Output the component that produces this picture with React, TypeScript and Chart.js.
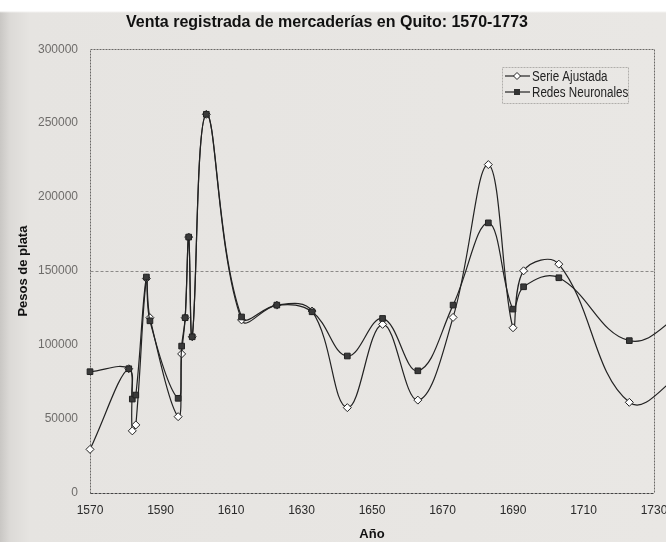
import React, { useEffect, useRef } from "react";
import { Chart, registerables } from "chart.js";

Chart.register(...registerables);

// ---- data ----
const years = [1570, 1581, 1582, 1583, 1586, 1587, 1595, 1596, 1597, 1598, 1599, 1603, 1613, 1623, 1633, 1643, 1653, 1663, 1673, 1683, 1690, 1693, 1703, 1723, 1740];
const serieAjustada = [29500, 84000, 42000, 46000, 145000, 118500, 51600, 94000, 118500, 173000, 105600, 256000, 117000, 127000, 123000, 57700, 114000, 62800, 118700, 222000, 111700, 150200, 154700, 61300, 85000];
const redesNeuronales = [82000, 84000, 63500, 66200, 146000, 116400, 64000, 99300, 118500, 173000, 105600, 256000, 119000, 127000, 122500, 92600, 118000, 82600, 127000, 182600, 124300, 139400, 145500, 103000, 125000];
const xTickValues = [1570, 1590, 1610, 1630, 1650, 1670, 1690, 1710, 1730];
const yTickValues = [0, 50000, 100000, 150000, 200000, 250000, 300000];
const gridValue = 150000;
const seriesNames = ["Serie Ajustada", "Redes Neuronales"];
const titleText = "Venta registrada de mercaderías en Quito: 1570-1773";
const xTitle = "Año";
const yTitle = "Pesos de plata";

const SANS = "'Liberation Sans', Arial, sans-serif";
const INK = "#222";

const framePlugin = {
  id: "frameAndLegend",
  beforeDatasetsDraw(chart: any) {
    const { ctx, chartArea: a, scales } = chart;
    const L = Math.round(a.left) + 0.5;
    const R = Math.round(a.right) + 0.5;
    const T = Math.round(a.top) + 0.5;
    const B = Math.round(a.bottom) + 0.5;
    const yg = Math.round(scales.y.getPixelForValue(gridValue)) + 0.5;
    ctx.save();
    ctx.lineWidth = 1;
    ctx.setLineDash([3, 2]);
    ctx.strokeStyle = "#8c8a88";
    ctx.beginPath();
    ctx.moveTo(L, yg);
    ctx.lineTo(R, yg);
    ctx.stroke();
    ctx.setLineDash([2, 1]);
    ctx.strokeStyle = "#6a6866";
    ctx.beginPath();
    ctx.moveTo(L, B);
    ctx.lineTo(L, T);
    ctx.lineTo(R, T);
    ctx.lineTo(R, B);
    ctx.stroke();
    ctx.strokeStyle = "#444";
    ctx.setLineDash([3, 1]);
    ctx.beginPath();
    ctx.moveTo(L, B);
    ctx.lineTo(R, B);
    ctx.stroke();
    ctx.restore();
  },
  afterDraw(chart: any) {
    const { ctx } = chart;
    ctx.save();
    ctx.strokeStyle = "#b0aeab";
    ctx.lineWidth = 1;
    ctx.setLineDash([2, 1]);
    ctx.strokeRect(502.5, 67.5, 126, 36);
    ctx.setLineDash([]);
    const rows = [76, 92];
    rows.forEach((y, i) => {
      ctx.strokeStyle = INK;
      ctx.lineWidth = 1.2;
      ctx.beginPath();
      ctx.moveTo(505, y);
      ctx.lineTo(530, y);
      ctx.stroke();
      const cx = 517;
      ctx.lineWidth = 1;
      if (i === 0) {
        ctx.fillStyle = "#fff";
        ctx.beginPath();
        ctx.moveTo(cx, y - 3.5);
        ctx.lineTo(cx + 3.5, y);
        ctx.lineTo(cx, y + 3.5);
        ctx.lineTo(cx - 3.5, y);
        ctx.closePath();
        ctx.fill();
        ctx.stroke();
      } else {
        ctx.fillStyle = "#333";
        ctx.fillRect(cx - 3, y - 3, 6, 6);
      }
      ctx.save();
      ctx.translate(532, y + 1);
      ctx.scale(0.83, 1);
      ctx.fillStyle = INK;
      ctx.font = `14px ${SANS}`;
      ctx.textBaseline = "middle";
      ctx.textAlign = "left";
      ctx.fillText(seriesNames[i], 0, 0);
      ctx.restore();
    });
    ctx.restore();
  },
};

export default function App() {
  const ref = useRef<HTMLCanvasElement | null>(null);

  useEffect(() => {
    if (!ref.current) return;
    const chart = new Chart(ref.current, {
      type: "line",
      data: {
        datasets: [
          {
            label: seriesNames[1],
            data: years.map((x, i) => ({ x, y: redesNeuronales[i] })),
            borderColor: INK,
            borderWidth: 1.2,
            backgroundColor: "#333",
            pointStyle: "rect",
            pointRadius: 4,
            pointBorderColor: "#222",
            pointBorderWidth: 1,
            pointBackgroundColor: "#3a3a3a",
            tension: 0.4,
            clip: false,
          },
          {
            label: seriesNames[0],
            data: years.map((x, i) => ({ x, y: serieAjustada[i] })),
            borderColor: INK,
            borderWidth: 1.2,
            backgroundColor: "#fff",
            pointStyle: "rectRot",
            pointRadius: 4,
            pointBorderColor: "#222",
            pointBorderWidth: 1,
            pointBackgroundColor: "#fff",
            tension: 0.4,
            clip: false,
          },
        ],
      },
      options: {
        responsive: false,
        animation: false,
        devicePixelRatio: 1,
        layout: { padding: { left: 0, right: 12, top: 0, bottom: 0 } },
        plugins: {
          legend: { display: false },
          tooltip: { enabled: false },
          title: {
            display: true,
            text: titleText,
            color: "#111",
            font: { family: SANS, size: 16, weight: "bold" },
            padding: { top: 13, bottom: 17 },
          },
        },
        scales: {
          x: {
            type: "linear",
            min: 1570,
            max: 1730,
            afterBuildTicks: (scale: any) => {
              scale.ticks = xTickValues.map((v) => ({ value: v }));
            },
            afterFit: (scale: any) => {
              scale.height = 49;
              scale.paddingLeft = 0;
              scale.paddingRight = 0;
            },
            grid: { display: false, drawTicks: false },
            border: { display: false },
            ticks: {
              color: "#2a2a2a",
              padding: 10,
              maxRotation: 0,
              autoSkip: false,
              font: { family: SANS, size: 12 },
              callback: (v: any) => String(v),
            },
            title: {
              display: true,
              text: xTitle,
              color: "#111",
              font: { family: SANS, size: 13, weight: "bold" },
              padding: { top: 0, bottom: 0 },
            },
          },
          y: {
            type: "linear",
            min: 0,
            max: 300000,
            afterBuildTicks: (scale: any) => {
              scale.ticks = yTickValues.map((v) => ({ value: v }));
            },
            afterFit: (scale: any) => {
              scale.width = 90;
            },
            grid: { display: false, drawTicks: false },
            border: { display: false },
            ticks: {
              color: "#6e6c6a",
              padding: 12,
              autoSkip: false,
              font: { family: SANS, size: 12 },
              callback: (v: any) => String(v),
            },
            title: {
              display: true,
              text: yTitle,
              color: "#111",
              font: { family: SANS, size: 13, weight: "bold" },
              padding: { top: 16, bottom: 0 },
            },
          },
        },
      },
      plugins: [framePlugin],
    } as any);
    return () => chart.destroy();
  }, []);

  return (
    <div
      style={{
        position: "absolute",
        left: 0,
        top: 0,
        width: 666,
        height: 542,
        background:
          "linear-gradient(to bottom, #ffffff 0px, #ffffff 11px, rgba(255,255,255,0) 13px), linear-gradient(to right, #c9c7c4 0px, #dcdad7 10px, #e6e4e1 30px, #e9e7e4 100%)",
      }}
    >
      <canvas ref={ref} width={666} height={542} style={{ display: "block" }} />
    </div>
  );
}
